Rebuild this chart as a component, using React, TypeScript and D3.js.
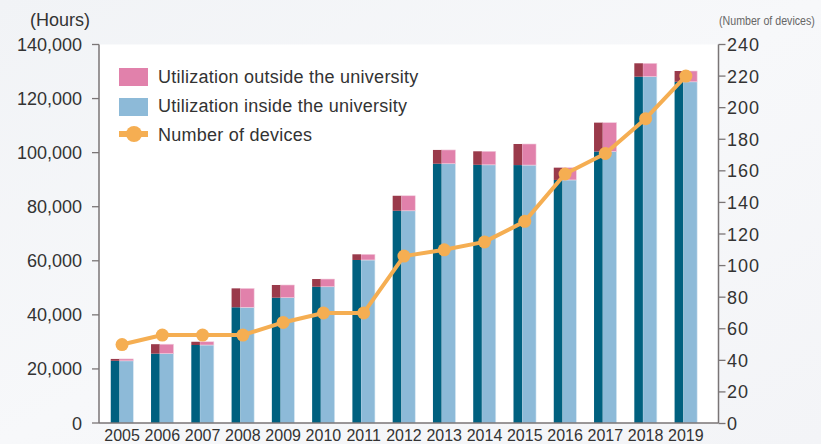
import React from "react";
import * as d3 from "d3";

const years = ["2005","2006","2007","2008","2009","2010","2011","2012","2013","2014","2015","2016","2017","2018","2019"];
const insideHours = [23000, 25650, 28850, 42800, 46350, 50400, 60300, 78500, 95900, 95500, 95400, 89900, 100400, 128100, 126200];
const outsideHours = [700, 3500, 1200, 7000, 4700, 2850, 2100, 5550, 5100, 5000, 7800, 4550, 10700, 4950, 4000];
const devices = [50, 56, 56, 56, 64, 70, 70, 106, 110, 115, 128, 158, 171, 193, 220];
const leftTicks = [0, 20000, 40000, 60000, 80000, 100000, 120000, 140000];
const rightTicks = [0, 20, 40, 60, 80, 100, 120, 140, 160, 180, 200, 220, 240];
const legendItems = ["Utilization outside the university", "Utilization inside the university", "Number of devices"];

const W = 821, H = 444;
const plot = { left: 99, right: 718.5, top: 44.5, bottom: 423 };

const C = {
  dark: "#00607f",
  light: "#8dbad8",
  darkRed: "#9a3a4b",
  pink: "#e181ab",
  orange: "#f5ae52",
  axis: "#7a7576",
  text: "#333333",
};

export default function App() {
  const x = d3.scaleBand<string>().domain(years).range([101.9, 706]).paddingInner(0.44).paddingOuter(0.22);
  const yL = d3.scaleLinear().domain([0, 140000]).range([plot.bottom, plot.top]);
  const yR = d3.scaleLinear().domain([0, 240]).range([plot.bottom + 0.5, plot.top]);
  const bw = x.bandwidth();
  const darkW = bw * 0.38;
  const cx = (y: string) => (x(y) as number) + bw / 2;
  const line = d3.line<number>().x((_, i) => cx(years[i])).y((d) => yR(d));
  const font = "'Liberation Sans', Arial, Helvetica, sans-serif";

  return (
    <svg width={W} height={H} style={{ position: "absolute", left: 0, top: 0 }} fontFamily={font}>
      <defs>
        <linearGradient id="bg" x1="0" y1="0" x2="1" y2="1">
          <stop offset="0" stopColor="#f1f3f6" />
          <stop offset="0.5" stopColor="#f7f8fa" />
          <stop offset="1" stopColor="#f3f4f7" />
        </linearGradient>
      </defs>
      <rect x={0} y={0} width={W} height={H} fill="url(#bg)" />
      <rect x={plot.left} y={plot.top} width={plot.right - plot.left} height={plot.bottom - plot.top} fill="#ffffff" />

      {/* bars */}
      {years.map((yr, i) => {
        const x0 = x(yr) as number;
        const yIn = yL(insideHours[i]);
        const yTot = yL(insideHours[i] + outsideHours[i]);
        return (
          <g key={yr}>
            <rect x={x0 + darkW} y={yIn} width={bw - darkW} height={plot.bottom - yIn} fill={C.light} stroke="#d6e7f2" strokeWidth={0.6} />
            <rect x={x0} y={yIn} width={darkW} height={plot.bottom - yIn} fill={C.dark} />
            <rect x={x0 + darkW} y={yTot} width={bw - darkW} height={yIn - yTot} fill={C.pink} stroke="#f2d0df" strokeWidth={0.6} />
            <rect x={x0} y={yTot} width={darkW} height={yIn - yTot} fill={C.darkRed} />
          </g>
        );
      })}

      {/* line */}
      <path d={line(devices) || ""} fill="none" stroke={C.orange} strokeWidth={4} strokeLinejoin="round" />
      {devices.map((d, i) => (
        <circle key={i} cx={cx(years[i])} cy={yR(d)} r={6.5} fill={C.orange} />
      ))}

      {/* axes */}
      <line x1={plot.left} x2={plot.left} y1={plot.top} y2={plot.bottom} stroke={C.axis} strokeWidth={1.5} />
      <line x1={plot.right} x2={plot.right} y1={plot.top} y2={plot.bottom} stroke={C.axis} strokeWidth={1.5} />
      <line x1={plot.left} x2={plot.right} y1={plot.bottom} y2={plot.bottom} stroke={C.axis} strokeWidth={1.5} />

      {leftTicks.map((t) => (
        <g key={t}>
          <line x1={plot.left - 7} x2={plot.left} y1={yL(t)} y2={yL(t)} stroke={C.axis} strokeWidth={1.3} />
          <text x={82} y={yL(t) + 6.5} textAnchor="end" fontSize={18} fill={C.text}>
            {d3.format(",")(t)}
          </text>
        </g>
      ))}
      {rightTicks.map((t) => (
        <g key={t}>
          <line x1={plot.right} x2={plot.right + 7} y1={yR(t)} y2={yR(t)} stroke={C.axis} strokeWidth={1.3} />
          <text x={727} y={yR(t) + 6.5} fontSize={18} letterSpacing={1} fill={C.text}>
            {t}
          </text>
        </g>
      ))}
      {years.map((yr) => (
        <text key={yr} x={cx(yr)} y={441} textAnchor="middle" fontSize={16} fill={C.text}>
          {yr}
        </text>
      ))}

      <text x={30} y={26} fontSize={18} fill={C.text}>(Hours)</text>
      <text transform="translate(719,25) scale(0.82,1)" x={0} y={0} fontSize={13} fill="#666">(Number of devices)</text>

      {/* legend */}
      <rect x={119} y={68} width={29} height={18} fill={C.pink} />
      <rect x={119} y={98} width={29} height={18} fill={C.light} />
      <line x1={119} x2={148} y1={134} y2={134} stroke={C.orange} strokeWidth={6} />
      <circle cx={134} cy={134} r={8} fill={C.orange} />
      {legendItems.map((t, i) => (
        <text key={t} x={158} y={82.5 + i * 29} fontSize={18} letterSpacing={0.25} fill={C.text}>
          {t}
        </text>
      ))}
    </svg>
  );
}
